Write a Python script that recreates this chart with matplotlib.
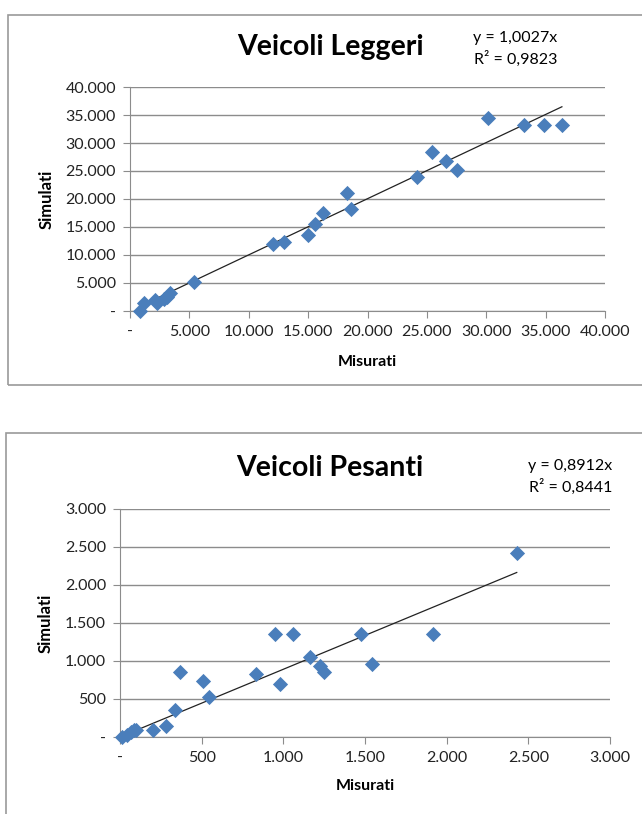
import matplotlib
matplotlib.use("Agg")
import matplotlib.pyplot as plt
from matplotlib.patches import Rectangle
from matplotlib.ticker import FuncFormatter, MultipleLocator
import numpy as np

# Veicoli Leggeri
LEGGERI_MIS = [860, 1200, 2140, 2240, 2830, 3100, 3350, 5420, 12080, 12940, 14980,
               15600, 16220, 18260, 18570, 24160, 25470, 26640, 27500, 30160,
               33200, 34860, 36370]
LEGGERI_SIM = [0, 1500, 1900, 1500, 2100, 2500, 3300, 5200, 11900, 12300, 13550,
               15600, 17450, 21150, 18250, 23950, 28450, 26850, 25200, 34450,
               33150, 33250, 33200]
LEGGERI_SLOPE = 1.0027
LEGGERI_EQ = ["y = 1,0027x", "R² = 0,9823"]

# Veicoli Pesanti
PESANTI_MIS = [15, 45, 65, 83, 95, 200, 280, 338, 370, 508, 543, 831, 947, 982,
               1059, 1164, 1222, 1247, 1477, 1542, 1918, 2429]
PESANTI_SIM = [0, 26, 70, 92, 96, 96, 145, 355, 860, 735, 522, 825, 1353, 691,
               1353, 1057, 934, 860, 1353, 960, 1353, 2425]
PESANTI_SLOPE = 0.8912
PESANTI_EQ = ["y = 0,8912x", "R² = 0,8441"]

BLUE = "#4a7ebb"
GRID = "#8c8c8c"
FONT = "Lato"

W, H = 642, 814


def fmt(v, _):
    if abs(v) < 1e-9:
        return "-"
    return f"{v:,.0f}".replace(",", ".")


def draw_chart(fig, rect, title, xs, ys, slope, eq, step, top, title_xy, eq_xy, xlab_y):
    l, t, r, b = rect
    ax = fig.add_axes([l / W, 1 - b / H, (r - l) / W, (b - t) / H])
    ax.scatter(xs, ys, marker="D", s=60, color=BLUE, zorder=3, linewidths=0, clip_on=False)
    xl = np.array([min(xs), max(xs)])
    ax.plot(xl, slope * xl, color="#222222", lw=0.9, zorder=2, clip_on=False)
    ax.set_xlim(0, top)
    ax.set_ylim(0, top)
    ax.xaxis.set_major_locator(MultipleLocator(step))
    ax.yaxis.set_major_locator(MultipleLocator(step))
    ax.xaxis.set_major_formatter(FuncFormatter(fmt))
    ax.yaxis.set_major_formatter(FuncFormatter(fmt))
    ax.grid(axis="y", color=GRID, lw=1.0, zorder=0)
    ax.set_axisbelow(True)
    for s in ("top", "right"):
        ax.spines[s].set_visible(False)
    for s in ("left", "bottom"):
        ax.spines[s].set_color(GRID)
    ax.tick_params(axis="both", direction="out", length=5, color=GRID,
                   labelsize=11.5, labelcolor="#222222", pad=5)
    for lab in ax.get_xticklabels() + ax.get_yticklabels():
        lab.set_family(FONT)
    ax.set_ylabel("Simulati", fontsize=12, fontweight="bold", family=FONT, labelpad=8)
    fig.text(((l + r) / 2) / W, 1 - xlab_y / H, "Misurati", fontsize=11.5,
             fontweight="bold", family=FONT, ha="center", va="center")
    fig.text(title_xy[0] / W, 1 - title_xy[1] / H, title, fontsize=20.5,
             fontweight="bold", family=FONT, ha="center", va="center")
    fig.text(eq_xy[0] / W, 1 - eq_xy[1] / H, eq[0] + "\n" + eq[1], fontsize=11.5,
             family=FONT, ha="right", va="center", linespacing=1.4)
    return ax


fig = plt.figure(figsize=(W / 100, H / 100), dpi=100)

# outer chart frames
fig.patches.append(Rectangle((8 / W, 1 - 385 / H), 1, 370 / H, transform=fig.transFigure,
                             fill=False, edgecolor="#9a9a9a", lw=1.2))
fig.patches.append(Rectangle((6 / W, -0.1), 1, 0.1 + (814 - 433) / H,
                             transform=fig.transFigure, fill=False,
                             edgecolor="#9a9a9a", lw=1.2))

draw_chart(fig, (130, 87, 605, 311), "Veicoli Leggeri", LEGGERI_MIS, LEGGERI_SIM,
           LEGGERI_SLOPE, LEGGERI_EQ, 5000, 40000, (330, 47), (557, 49), 362)
draw_chart(fig, (120, 509, 610, 737), "Veicoli Pesanti", PESANTI_MIS, PESANTI_SIM,
           PESANTI_SLOPE, PESANTI_EQ, 500, 3000, (330, 468), (612, 477), 786)

fig.savefig("out.png", dpi=100)
